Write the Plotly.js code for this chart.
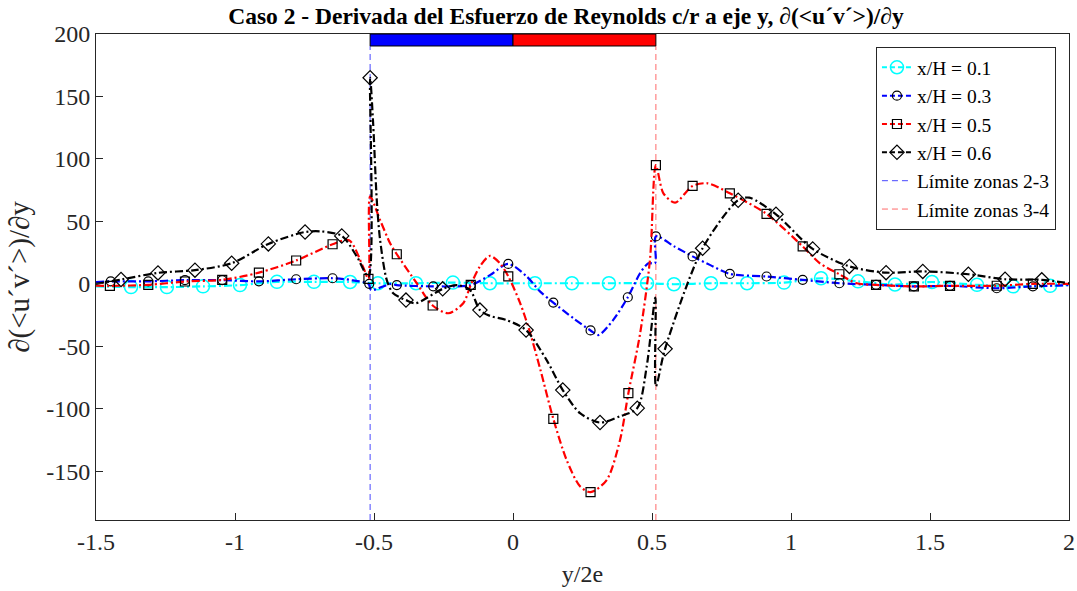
<!DOCTYPE html>
<html>
<head>
<meta charset="utf-8">
<script src="https://cdn.plot.ly/plotly-3.0.1.min.js"></script>
<style>
  html, body { margin: 0; padding: 0; background: #fff; }
  #chart { width: 1077px; height: 591px; }
</style>
</head>
<body>
<div id="chart"></div>
<script>
// Axis limits and ticks
const xLim = [-1.5, 2];
const yLim = [-189, 200];
const xTickVals = [-1.5, -1, -0.5, 0, 0.5, 1, 1.5, 2];
const xTickText = ['-1.5', '-1', '-0.5', '0', '0.5', '1', '1.5', '2'];
const yTickVals = [-150, -100, -50, 0, 50, 100, 150, 200];
const yTickText = ['-150', '-100', '-50', '0', '50', '100', '150', '200'];

// Zone boundaries (y/2e) and the zone bar drawn along the top
const zoneLimits = [-0.514, 0.514];
const barY = [190.4, 200];

// x/H = 0.1
const c01X = [-1.5, -1.374, -1.245, -1.115, -0.982, -0.849, -0.716, -0.586, -0.486, -0.349, -0.216, -0.083, 0.079, 0.212, 0.345, 0.482, 0.579, 0.712, 0.842, 0.975, 1.108, 1.241, 1.374, 1.507, 1.669, 1.799, 1.932, 2.0];
const c01Y = [-2, -2.6, -2.6, -2, -1, 1.6, 1.6, 1.5, 0.5, 0.5, 1, 0.5, 0.5, 0.5, 0.5, 0.5, -0.3, 0.5, 0.5, 1, 4.5, 2, -0.5, 1.5, -0.8, -2, -1.6, -1];
const m01X = [-1.374, -1.245, -1.115, -0.982, -0.849, -0.716, -0.586, -0.486, -0.349, -0.216, -0.083, 0.079, 0.212, 0.345, 0.482, 0.579, 0.712, 0.842, 0.975, 1.108, 1.241, 1.374, 1.507, 1.669, 1.799, 1.932];
const m01Y = [-2.6, -2.6, -2, -1, 1.6, 1.6, 1.5, 0.5, 0.5, 1, 0.5, 0.5, 0.5, 0.5, 0.5, -0.3, 0.5, 0.5, 1, 4.5, 2, -0.5, 1.5, -0.8, -2, -1.6];

// x/H = 0.3
const c03X = [-1.5, -1.447, -1.312, -1.18, -1.046, -0.914, -0.78, -0.649, -0.58, -0.52, -0.51, -0.44, -0.418, -0.287, -0.216, -0.152, -0.083, -0.017, 0.049, 0.097, 0.145, 0.22, 0.279, 0.307, 0.36, 0.413, 0.457, 0.487, 0.511, 0.514, 0.58, 0.646, 0.71, 0.78, 0.912, 1.042, 1.174, 1.306, 1.442, 1.572, 1.74, 1.87, 2.0];
const c03Y = [1.5, 2, 2, 3, 3, 2, 3.7, 4.5, 3, 0, -5, 0, -1, -2, -2, -1, 7, 16, 6, -6, -15, -28, -37.3, -41, -29, -10.7, 8.5, 16.5, 16.5, 38, 30, 22, 15, 8, 5.9, 3.2, 0.5, -0.8, -2, -1.6, -3.5, -2, -1];
const m03X = [-1.447, -1.312, -1.18, -1.046, -0.914, -0.78, -0.649, -0.517, -0.418, -0.287, -0.152, -0.017, 0.145, 0.279, 0.413, 0.514, 0.646, 0.78, 0.912, 1.042, 1.174, 1.306, 1.442, 1.572, 1.74, 1.87];
const m03Y = [2, 2, 3, 3, 2, 3.7, 4.5, 0, -1, -2, -1, 16, -15, -37.3, -10.7, 38, 22, 8, 5.9, 3.2, 0.5, -0.8, -2, -1.6, -3.5, -2];

// x/H = 0.5
const c05X = [-1.5, -1.45, -1.312, -1.18, -1.046, -0.914, -0.78, -0.649, -0.59, -0.54, -0.52, -0.514, -0.478, -0.442, -0.418, -0.346, -0.289, -0.233, -0.179, -0.152, -0.119, -0.083, -0.047, -0.017, 0.025, 0.06, 0.1, 0.145, 0.193, 0.241, 0.279, 0.337, 0.385, 0.415, 0.457, 0.493, 0.514, 0.541, 0.583, 0.646, 0.7, 0.78, 0.912, 1.042, 1.104, 1.174, 1.236, 1.306, 1.442, 1.572, 1.74, 1.87, 2.0];
const c05Y = [-1.5, -1.6, -0.8, 1.9, 3.2, 9, 18.7, 31.7, 35, 14, 4, 70, 51, 32.5, 23.7, 0.5, -17.3, -23.5, -15.5, -0.8, 14, 22.4, 16.5, 6, -15, -38, -70, -108, -141, -162, -166.7, -157, -125, -87.5, -40, 20, 95, 72.5, 65, 78.4, 80.5, 72.5, 56, 30, 16.5, 7.7, 0.5, -0.8, -2, -1.6, -1.5, 0, 0];
const m05X = [-1.45, -1.312, -1.18, -1.046, -0.914, -0.78, -0.649, -0.52, -0.418, -0.289, -0.152, -0.017, 0.145, 0.279, 0.415, 0.514, 0.646, 0.78, 0.912, 1.042, 1.174, 1.306, 1.442, 1.572, 1.74, 1.87];
const m05Y = [-1.6, -0.8, 1.9, 3.2, 9, 18.7, 31.7, 4, 23.7, -17.3, -0.8, 6, -108, -166.7, -87.5, 95, 78.4, 72.5, 56, 30, 7.7, -0.8, -2, -1.6, -1.5, 0];

// x/H = 0.6
const c06X = [-1.5, -1.41, -1.277, -1.144, -1.012, -0.88, -0.748, -0.69, -0.616, -0.562, -0.52, -0.514, -0.503, -0.49, -0.478, -0.454, -0.431, -0.385, -0.351, -0.253, -0.2, -0.155, -0.119, -0.083, -0.023, 0.047, 0.121, 0.179, 0.241, 0.313, 0.385, 0.447, 0.481, 0.512, 0.514, 0.547, 0.682, 0.81, 0.85, 0.946, 1.078, 1.21, 1.342, 1.474, 1.638, 1.77, 1.902, 2.0];
const c06Y = [0, 3.5, 8.8, 11, 16.5, 32, 41.5, 42, 38.4, 22, 5.8, 165, 128, 67, 35, 3, -7.5, -13, -15.5, -4, -1, -4.8, -21, -25.6, -29, -37, -61, -85, -103.5, -111, -106, -99.5, -66, -11, -82, -52, 28.5, 67, 69, 55.7, 28, 14, 9, 10, 7.7, 3.7, 3.2, 0.5];
const m06X = [-1.41, -1.277, -1.144, -1.012, -0.88, -0.748, -0.616, -0.514, -0.385, -0.253, -0.119, 0.047, 0.179, 0.313, 0.447, 0.547, 0.682, 0.81, 0.946, 1.078, 1.21, 1.342, 1.474, 1.638, 1.77, 1.902];
const m06Y = [3.5, 8.8, 11, 16.5, 32, 41.5, 38.4, 165, -13, -4, -21, -37, -85, -111, -99.5, -52, 28.5, 67, 55.7, 28, 14, 9, 10, 7.7, 3.7, 3.2];

const serif = 'Liberation Serif, Times New Roman, serif';
const axisGray = '#262626';
const dashDot = '8px,3px,2px,3px';

const series = [
  { name: 'x/H = 0.1', cx: c01X, cy: c01Y, mx: m01X, my: m01Y, color: '#00ffff',
    marker: { symbol: 'circle-open', size: 13, color: '#00ffff', line: { width: 1.5, color: '#00ffff' } } },
  { name: 'x/H = 0.3', cx: c03X, cy: c03Y, mx: m03X, my: m03Y, color: '#0000ff',
    marker: { symbol: 'circle-open', size: 9, color: '#000', line: { width: 1.2, color: '#000' } } },
  { name: 'x/H = 0.5', cx: c05X, cy: c05Y, mx: m05X, my: m05Y, color: '#ff0000',
    marker: { symbol: 'square-open', size: 9, color: '#000', line: { width: 1.2, color: '#000' } } },
  { name: 'x/H = 0.6', cx: c06X, cy: c06Y, mx: m06X, my: m06Y, color: '#000000',
    marker: { symbol: 'diamond-open', size: 11, color: '#000', line: { width: 1.2, color: '#000' } } }
];

const traces = [];

// Zone boundary lines (drawn first so the profiles sit on top)
traces.push({
  x: [zoneLimits[0], zoneLimits[0]], y: [yLim[0], barY[0]],
  mode: 'lines', name: 'Límite zonas 2-3', legendrank: 5,
  line: { color: 'rgba(40,40,255,0.85)', width: 1, dash: '6px,4px' },
  hoverinfo: 'skip'
});
traces.push({
  x: [zoneLimits[1], zoneLimits[1]], y: [yLim[0], barY[0]],
  mode: 'lines', name: 'Límite zonas 3-4', legendrank: 6,
  line: { color: 'rgba(255,90,90,0.9)', width: 1, dash: '6px,4px' },
  hoverinfo: 'skip'
});

series.forEach((s, i) => {
  traces.push({
    x: s.cx, y: s.cy, mode: 'lines', showlegend: false, legendgroup: s.name,
    line: { color: s.color, width: 2.2, dash: dashDot, shape: 'spline', smoothing: 0.8 }
  });
  traces.push({
    x: s.mx, y: s.my, mode: 'markers', showlegend: false, legendgroup: s.name,
    marker: s.marker
  });
  // legend entry: line with its marker
  traces.push({
    x: [null], y: [null], mode: 'lines+markers', name: s.name, legendgroup: s.name,
    legendrank: i + 1,
    line: { color: s.color, width: 2, dash: '5px,3px' },
    marker: s.marker
  });
});

const axisFont = { family: serif, size: 24, color: axisGray };

const layout = {
  width: 1077, height: 591,
  margin: { l: 96, r: 8, t: 34, b: 71 },
  paper_bgcolor: '#fff', plot_bgcolor: '#fff',
  showlegend: true,
  title: {
    text: 'Caso 2 - Derivada del Esfuerzo de Reynolds c/r a eje y, ∂(&lt;u´v´&gt;)/∂y',
    font: { family: serif, size: 23.5, color: '#000', weight: 'bold' },
    xref: 'paper', x: 0.483, xanchor: 'center',
    yref: 'container', y: 1 - 16 / 591, yanchor: 'middle'
  },
  xaxis: {
    range: xLim, tickvals: xTickVals, ticktext: xTickText,
    ticks: 'inside', ticklen: 7, tickwidth: 1, tickcolor: axisGray,
    showline: true, linecolor: axisGray, linewidth: 1, mirror: true,
    showgrid: false, zeroline: false, tickfont: axisFont,
    title: { text: 'y/2e', font: axisFont, standoff: 11 }
  },
  yaxis: {
    range: yLim, tickvals: yTickVals, ticktext: yTickText,
    ticks: 'inside', ticklen: 7, tickwidth: 1, tickcolor: axisGray,
    showline: true, linecolor: axisGray, linewidth: 1, mirror: true,
    showgrid: false, zeroline: false, tickfont: axisFont,
    title: { text: '∂(&lt;u´v´&gt;)/∂y', font: { family: serif, size: 29, color: axisGray }, standoff: 8 }
  },
  legend: {
    x: 0.9866, y: 0.973, xanchor: 'right', yanchor: 'top',
    bgcolor: '#fff', bordercolor: axisGray, borderwidth: 1,
    font: { family: serif, size: 19.5, color: '#000' },
    traceorder: 'normal'
  },
  shapes: [
    { type: 'rect', xref: 'x', yref: 'y', x0: zoneLimits[0], x1: 0, y0: barY[0], y1: barY[1],
      fillcolor: '#0000ff', line: { color: '#000', width: 1 } },
    { type: 'rect', xref: 'x', yref: 'y', x0: 0, x1: zoneLimits[1], y0: barY[0], y1: barY[1],
      fillcolor: '#ff0000', line: { color: '#000', width: 1 } }
  ]
};

Plotly.newPlot('chart', traces, layout, { displayModeBar: false, staticPlot: true });
</script>
</body>
</html>
